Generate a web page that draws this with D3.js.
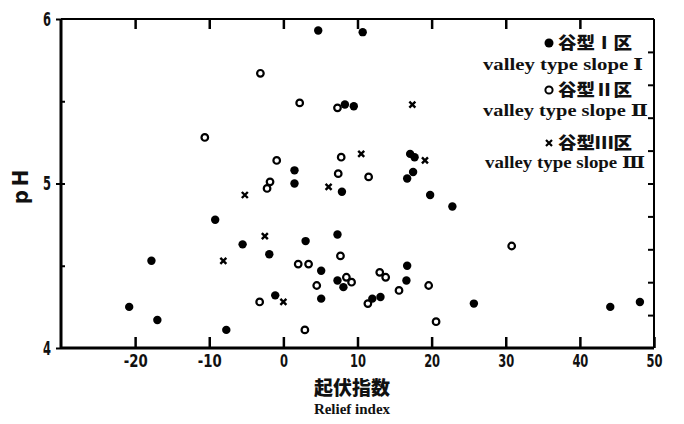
<!DOCTYPE html>
<html>
<head>
<meta charset="utf-8">
<script src="https://cdn.jsdelivr.net/npm/d3@7"></script>
<style>
  body { margin: 0; background: #fff; }
  text { font-family: "Liberation Serif", "DejaVu Serif", serif; font-weight: bold; fill: #111; }
  .num { font-family: "Liberation Sans Narrow", "DejaVu Sans Condensed", "Liberation Sans", sans-serif; font-stretch: condensed; }
  .cjk { font-family: "Noto Sans CJK JP", "Noto Sans CJK SC", sans-serif; font-weight: 900; }
</style>
</head>
<body>
<script>
var svgWidth = 684;
var svgHeight = 424;

// relief index (x) and pH (y)
var type1 = [
  [4.7, 5.93], [10.7, 5.92], [8.3, 5.48], [9.5, 5.47], [1.5, 5.08], [1.5, 5.00],
  [7.9, 4.95], [17.1, 5.18], [17.7, 5.16], [17.5, 5.07], [16.7, 5.03], [19.8, 4.93],
  [22.8, 4.86], [-9.2, 4.78], [3.0, 4.65], [7.3, 4.69], [-5.5, 4.63], [-1.9, 4.57],
  [-17.8, 4.53], [5.1, 4.47], [7.3, 4.41], [8.1, 4.37], [5.1, 4.30], [-1.1, 4.32],
  [-20.8, 4.25], [-17.0, 4.17], [-7.7, 4.11], [16.7, 4.50], [16.6, 4.41], [13.1, 4.31],
  [12.0, 4.30], [25.7, 4.27], [44.1, 4.25], [48.1, 4.28]
];
var type2 = [
  [-3.1, 5.67], [2.2, 5.49], [7.3, 5.46], [-10.6, 5.28], [-0.9, 5.14], [-1.8, 5.01],
  [-2.2, 4.97], [7.8, 5.16], [7.4, 5.06], [11.5, 5.04], [2.0, 4.51], [3.4, 4.51],
  [7.7, 4.56], [4.5, 4.38], [8.5, 4.43], [9.2, 4.40], [-3.2, 4.28], [2.9, 4.11],
  [13.0, 4.46], [13.8, 4.43], [15.6, 4.35], [11.4, 4.27], [19.6, 4.38], [20.6, 4.16],
  [30.8, 4.62]
];
var type3 = [
  [17.4, 5.48], [10.5, 5.18], [19.1, 5.14], [6.1, 4.98], [-5.2, 4.93], [-2.5, 4.68],
  [-8.1, 4.53], [0.0, 4.28]
];
var xTicks = [-20, -10, 0, 10, 20, 30, 40, 50];
var yLabels = [4, 5, 6];
var yMinorLeft = [4.5, 5, 5.5];
var yMinorRight = [4.2, 4.4, 4.6, 4.8, 5.0, 5.2, 5.4, 5.6, 5.8];
var legendRows = [
  { kind: "filled", cn: "谷型Ⅰ区", en: "valley type slope Ⅰ" },
  { kind: "open", cn: "谷型Ⅱ区", en: "valley type slope Ⅱ" },
  { kind: "cross", cn: "谷型Ⅲ区", en: "valley type slope Ⅲ" }
];

var x = d3.scaleLinear().domain([-30, 50]).range([61, 654]);
var y = d3.scaleLinear().domain([4, 6]).range([348, 19]);

var svg = d3.select("body").append("svg")
  .attr("width", svgWidth)
  .attr("height", svgHeight);

var crossPath = function (cx, cy, s) {
  return "M" + (cx - s) + "," + (cy - s) + "L" + (cx + s) + "," + (cy + s) +
    "M" + (cx - s) + "," + (cy + s) + "L" + (cx + s) + "," + (cy - s);
};

// frame
svg.append("line").attr("x1", x(-30)).attr("x2", x(-30)).attr("y1", y(6)).attr("y2", y(4))
  .attr("stroke", "#000").attr("stroke-width", 3);
svg.append("line").attr("x1", x(-30)).attr("x2", x(50)).attr("y1", y(4)).attr("y2", y(4))
  .attr("stroke", "#000").attr("stroke-width", 3);
svg.append("line").attr("x1", x(-30)).attr("x2", x(50)).attr("y1", y(6)).attr("y2", y(6))
  .attr("stroke", "#000").attr("stroke-width", 2);
svg.append("line").attr("x1", x(50)).attr("x2", x(50)).attr("y1", y(6)).attr("y2", y(4))
  .attr("stroke", "#000").attr("stroke-width", 2);

// bottom axis with inward ticks
var bottomAxis = svg.append("g").attr("transform", "translate(0," + y(4) + ")")
  .call(d3.axisBottom(x).tickValues(xTicks).tickSize(-11).tickPadding(10)
    .tickFormat(function (d) { return d < 0 ? "-" + Math.abs(d) : d; }));
bottomAxis.select(".domain").remove();
bottomAxis.selectAll(".tick line").attr("stroke", "#000").attr("stroke-width", 2.5);
bottomAxis.selectAll(".tick text").attr("class", "num").attr("font-size", 17).attr("dy", "0.55em")
  .attr("textLength", function (d) { return String(d).length * 8; })
  .attr("lengthAdjust", "spacingAndGlyphs");

// top ticks
var topAxis = svg.append("g").attr("transform", "translate(0," + y(6) + ")")
  .call(d3.axisTop(x).tickValues(xTicks.slice(0, -1)).tickSize(-10).tickFormat(""));
topAxis.select(".domain").remove();
topAxis.selectAll(".tick line").attr("stroke", "#000").attr("stroke-width", 2.5);

// left axis
var leftAxis = svg.append("g").attr("transform", "translate(" + x(-30) + ",0)")
  .call(d3.axisLeft(y).tickValues(yLabels).tickSize(5).tickPadding(5).tickFormat(d3.format("d")));
leftAxis.select(".domain").remove();
leftAxis.selectAll(".tick line").attr("stroke", "#000").attr("stroke-width", 2);
leftAxis.selectAll(".tick text").attr("class", "num").attr("font-size", 19)
  .attr("textLength", 8).attr("lengthAdjust", "spacingAndGlyphs");
svg.append("g").attr("transform", "translate(" + x(-30) + ",0)")
  .call(d3.axisRight(y).tickValues(yMinorLeft).tickSize(4).tickFormat(""))
  .call(function (g) { g.select(".domain").remove(); g.selectAll("line").attr("stroke-width", 2); });

// right axis ticks inward
var rightAxis = svg.append("g").attr("transform", "translate(" + x(50) + ",0)")
  .call(d3.axisLeft(y).tickValues(yMinorRight).tickSize(6).tickFormat(""));
rightAxis.select(".domain").remove();
rightAxis.selectAll(".tick line").attr("stroke", "#000").attr("stroke-width", 2);

// points
svg.append("g").selectAll("circle")
  .data(type1).enter().append("circle")
  .attr("cx", function (d) { return x(d[0]); })
  .attr("cy", function (d) { return y(d[1]); })
  .attr("r", 4.2)
  .attr("fill", "#000");

svg.append("g").selectAll("circle")
  .data(type2).enter().append("circle")
  .attr("cx", function (d) { return x(d[0]); })
  .attr("cy", function (d) { return y(d[1]); })
  .attr("r", 3.3)
  .attr("fill", "#fff")
  .attr("stroke", "#000")
  .attr("stroke-width", 2.2);

svg.append("g").selectAll("path")
  .data(type3).enter().append("path")
  .attr("d", function (d) { return crossPath(x(d[0]), y(d[1]), 3); })
  .attr("stroke", "#000")
  .attr("stroke-width", 2.4);

// legend
var legendCn = [49, 96, 149];
var legendEn = [70, 116, 168];
var legend = svg.append("g");
legendRows.forEach(function (row, i) {
  var yy = legendCn[i];
  legend.append("text").attr("class", "cjk")
    .attr("x", 632).attr("y", yy)
    .attr("text-anchor", "end")
    .attr("font-size", 17)
    .attr("textLength", 74)
    .attr("lengthAdjust", "spacingAndGlyphs")
    .text(row.cn);
  var mx = 549, my = yy - 6;
  if (row.kind === "filled") {
    legend.append("circle").attr("cx", mx).attr("cy", my).attr("r", 4.5).attr("fill", "#000");
  } else if (row.kind === "open") {
    legend.append("circle").attr("cx", mx).attr("cy", my).attr("r", 3.6)
      .attr("fill", "#fff").attr("stroke", "#000").attr("stroke-width", 2);
  } else {
    legend.append("path").attr("d", crossPath(mx, my, 3))
      .attr("stroke", "#000").attr("stroke-width", 2.2);
  }
  legend.append("text")
    .attr("x", 483 + (i === 2 ? 2 : 0)).attr("y", legendEn[i])
    .attr("font-size", 16)
    .attr("textLength", i === 1 ? 165 : 160)
    .attr("lengthAdjust", "spacingAndGlyphs")
    .text(row.en);
});

// axis titles
svg.append("text").attr("class", "num")
  .attr("transform", "translate(28,185) rotate(-90)")
  .attr("text-anchor", "middle")
  .attr("font-size", 22)
  .attr("letter-spacing", 4)
  .text("pH");

svg.append("text").attr("class", "cjk")
  .attr("x", 352).attr("y", 395)
  .attr("text-anchor", "middle")
  .attr("font-size", 19)
  .text("起伏指数");

svg.append("text")
  .attr("x", 352).attr("y", 414)
  .attr("text-anchor", "middle")
  .attr("font-size", 15)
  .text("Relief index");
</script>
</body>
</html>
